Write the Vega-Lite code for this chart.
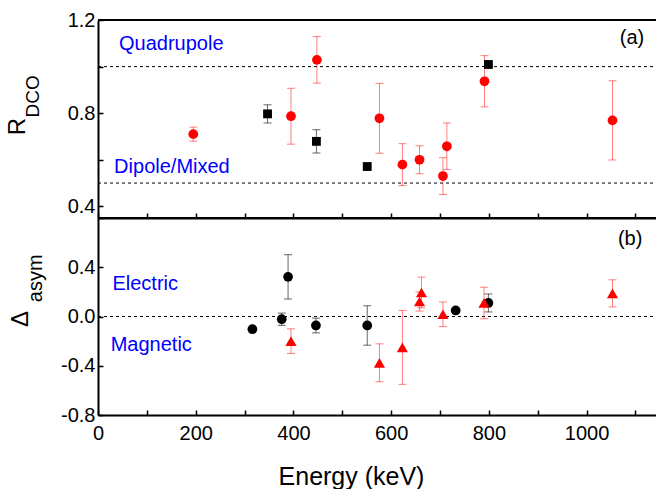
{
  "$schema": "https://vega.github.io/schema/vega-lite/v6.json",
  "padding": {"left": 6, "top": 10, "right": 0, "bottom": 0},
  "spacing": 0,
  "bounds": "flush",
  "resolve": {"scale": {"x": "independent", "y": "independent"}, "axis": {"x": "independent", "y": "independent"}},
  "config": {
    "font": "Liberation Sans",
    "view": {"stroke": null},
    "axis": {
      "grid": false,
      "domainColor": "#000000",
      "domainWidth": 2,
      "tickColor": "#000000",
      "tickWidth": 1.5,
      "tickSize": -5,
      "labelFont": "Liberation Sans",
      "labelFontSize": 20,
      "labelColor": "#000000",
      "labelFlush": false,
      "labelOverlap": false,
      "titleFont": "Liberation Sans",
      "titleFontSize": 25,
      "titleFontWeight": "normal",
      "titleColor": "#000000"
    }
  },
  "datasets": {
    "one": [{}],
    "rdcoRed": [
      {"E": 195, "v": 0.71, "err": 0.03},
      {"E": 395, "v": 0.787, "err": 0.12},
      {"E": 448, "v": 1.029, "err": 0.10},
      {"E": 576, "v": 0.778, "err": 0.15},
      {"E": 623, "v": 0.579, "err": 0.09},
      {"E": 658, "v": 0.60, "err": 0.06},
      {"E": 706, "v": 0.53, "err": 0.079},
      {"E": 714, "v": 0.658, "err": 0.10},
      {"E": 791, "v": 0.937, "err": 0.11},
      {"E": 1053, "v": 0.769, "err": 0.17}
    ],
    "rdcoBlack": [
      {"E": 347, "v": 0.797, "err": 0.039},
      {"E": 447, "v": 0.679, "err": 0.05},
      {"E": 551, "v": 0.571, "err": 0.0},
      {"E": 799, "v": 1.009, "err": 0.0}
    ],
    "asymBlack": [
      {"E": 316, "v": -0.103, "err": 0.0},
      {"E": 376, "v": -0.022, "err": 0.05},
      {"E": 389, "v": 0.322, "err": 0.18},
      {"E": 446, "v": -0.073, "err": 0.06},
      {"E": 551, "v": -0.073, "err": 0.16},
      {"E": 732, "v": 0.049, "err": 0.0},
      {"E": 799, "v": 0.11, "err": 0.073}
    ],
    "asymRed": [
      {"E": 395, "v": -0.20, "err": 0.10},
      {"E": 576, "v": -0.376, "err": 0.154},
      {"E": 623, "v": -0.251, "err": 0.30},
      {"E": 658, "v": 0.122, "err": 0.078},
      {"E": 662, "v": 0.195, "err": 0.125},
      {"E": 706, "v": 0.018, "err": 0.10},
      {"E": 790, "v": 0.11, "err": 0.128},
      {"E": 1053, "v": 0.188, "err": 0.11}
    ]
  },
  "vconcat": [
    {
      "width": 558,
      "height": 198,
      "layer": [
        {
          "data": {"name": "one"},
          "mark": {"type": "rule", "color": "#000000", "strokeWidth": 1, "strokeDash": [3, 3]},
          "encoding": {
            "x": {"datum": 0, "type": "quantitative", "scale": {"domain": [0, 1142], "nice": false, "zero": false},
              "axis": {"title": null, "orient": "bottom", "labels": false, "domain": true, "ticks": true, "zindex": 1,
                "domainOpacity": 1, "tickOpacity": 1, "tickSize": -5,
                "values": [0, 100, 200, 300, 400, 500, 600, 700, 800, 900, 1000, 1100]}},
            "x2": {"datum": 1142},
            "y": {"datum": 1.0, "type": "quantitative", "scale": {"domain": [0.35, 1.2], "nice": false, "zero": false},
              "axis": {"title": null, "values": [0.4, 0.6, 0.8, 1.0, 1.2], "labelPadding": 8,
                "labelExpr": "round(datum.value*10) % 4 == 0 ? format(datum.value, '.1f') : ''"}}
          }
        },
        {
          "data": {"name": "one"},
          "mark": {"type": "rule", "color": "#000000", "strokeWidth": 1, "strokeDash": [3, 3]},
          "encoding": {
            "x": {"datum": 0, "type": "quantitative", "scale": {"domain": [0, 1142], "nice": false, "zero": false}},
            "x2": {"datum": 1142},
            "y": {"datum": 0.5, "type": "quantitative", "scale": {"domain": [0.35, 1.2], "nice": false, "zero": false}}
          }
        },
        {
          "data": {"name": "one"},
          "mark": {"type": "rule", "color": "#000000", "strokeWidth": 2},
          "encoding": {
            "x": {"datum": 0, "type": "quantitative", "scale": {"domain": [0, 1142], "nice": false, "zero": false}},
            "x2": {"datum": 1142},
            "y": {"datum": 1.2, "type": "quantitative", "scale": {"domain": [0.35, 1.2], "nice": false, "zero": false}}
          }
        },
        {
          "data": {"name": "one"},
          "mark": {"type": "rule", "color": "#000000", "strokeWidth": 2},
          "encoding": {
            "x": {"datum": 0, "type": "quantitative", "scale": {"domain": [0, 1142], "nice": false, "zero": false}},
            "x2": {"datum": 1142},
            "y": {"datum": 0.35, "type": "quantitative", "scale": {"domain": [0.35, 1.2], "nice": false, "zero": false}}
          }
        },
        {
          "data": {"name": "rdcoRed"},
          "mark": {"type": "errorbar", "color": "#ff0000", "opacity": 0.5, "thickness": 1, "ticks": {"size": 8, "thickness": 1}},
          "encoding": {
            "x": {"field": "E", "type": "quantitative", "scale": {"domain": [0, 1142], "nice": false, "zero": false}},
            "y": {"field": "v", "type": "quantitative", "scale": {"domain": [0.35, 1.2], "nice": false, "zero": false}},
            "yError": {"field": "err"}
          }
        },
        {
          "data": {"name": "rdcoBlack"},
          "mark": {"type": "errorbar", "color": "#000000", "opacity": 0.6, "thickness": 1, "ticks": {"size": 8, "thickness": 1}},
          "encoding": {
            "x": {"field": "E", "type": "quantitative", "scale": {"domain": [0, 1142], "nice": false, "zero": false}},
            "y": {"field": "v", "type": "quantitative", "scale": {"domain": [0.35, 1.2], "nice": false, "zero": false}},
            "yError": {"field": "err"}
          }
        },
        {
          "data": {"name": "rdcoRed"},
          "mark": {"type": "point", "shape": "circle", "filled": true, "color": "#ff0000", "opacity": 1, "size": 95},
          "encoding": {
            "x": {"field": "E", "type": "quantitative", "scale": {"domain": [0, 1142], "nice": false, "zero": false}},
            "y": {"field": "v", "type": "quantitative", "scale": {"domain": [0.35, 1.2], "nice": false, "zero": false}}
          }
        },
        {
          "data": {"name": "rdcoBlack"},
          "mark": {"type": "point", "shape": "square", "filled": true, "color": "#000000", "opacity": 1, "size": 78},
          "encoding": {
            "x": {"field": "E", "type": "quantitative", "scale": {"domain": [0, 1142], "nice": false, "zero": false}},
            "y": {"field": "v", "type": "quantitative", "scale": {"domain": [0.35, 1.2], "nice": false, "zero": false}}
          }
        },
        {
          "data": {"name": "one"},
          "mark": {"type": "text", "align": "left", "baseline": "middle", "fontSize": 20, "color": "#0000ff"},
          "encoding": {
            "x": {"datum": 43, "type": "quantitative", "scale": {"domain": [0, 1142], "nice": false, "zero": false}},
            "y": {"datum": 1.099, "type": "quantitative", "scale": {"domain": [0.35, 1.2], "nice": false, "zero": false}},
            "text": {"value": "Quadrupole"}
          }
        },
        {
          "data": {"name": "one"},
          "mark": {"type": "text", "align": "left", "baseline": "middle", "fontSize": 20, "color": "#0000ff"},
          "encoding": {
            "x": {"datum": 33, "type": "quantitative", "scale": {"domain": [0, 1142], "nice": false, "zero": false}},
            "y": {"datum": 0.568, "type": "quantitative", "scale": {"domain": [0.35, 1.2], "nice": false, "zero": false}},
            "text": {"value": "Dipole/Mixed"}
          }
        },
        {
          "data": {"name": "one"},
          "mark": {"type": "text", "align": "center", "baseline": "middle", "fontSize": 20, "color": "#000000"},
          "encoding": {
            "x": {"datum": 1093, "type": "quantitative", "scale": {"domain": [0, 1142], "nice": false, "zero": false}},
            "y": {"datum": 1.124, "type": "quantitative", "scale": {"domain": [0.35, 1.2], "nice": false, "zero": false}},
            "text": {"value": "(a)"}
          }
        },
        {
          "data": {"name": "one"},
          "mark": {"type": "text", "align": "center", "baseline": "alphabetic", "angle": 270, "fontSize": 24, "color": "#000000"},
          "encoding": {
            "x": {"datum": -149, "type": "quantitative", "scale": {"domain": [0, 1142], "nice": false, "zero": false}},
            "y": {"datum": 0.742, "type": "quantitative", "scale": {"domain": [0.35, 1.2], "nice": false, "zero": false}},
            "text": {"value": "R"}
          }
        },
        {
          "data": {"name": "one"},
          "mark": {"type": "text", "align": "center", "baseline": "alphabetic", "angle": 270, "fontSize": 19, "color": "#000000"},
          "encoding": {
            "x": {"datum": -121, "type": "quantitative", "scale": {"domain": [0, 1142], "nice": false, "zero": false}},
            "y": {"datum": 0.872, "type": "quantitative", "scale": {"domain": [0.35, 1.2], "nice": false, "zero": false}},
            "text": {"value": "DCO"}
          }
        }
      ]
    },
    {
      "width": 558,
      "height": 197,
      "layer": [
        {
          "data": {"name": "one"},
          "mark": {"type": "rule", "color": "#000000", "strokeWidth": 1, "strokeDash": [3, 3]},
          "encoding": {
            "x": {"datum": 0, "type": "quantitative", "scale": {"domain": [0, 1142], "nice": false, "zero": false},
              "axis": {"title": "Energy (keV)", "titleX": 253, "titlePadding": 21, "labelPadding": 13,
                "values": [0, 100, 200, 300, 400, 500, 600, 700, 800, 900, 1000, 1100],
                "labelExpr": "datum.value % 200 == 0 && datum.value <= 1000 ? toString(datum.value) : ''"}},
            "x2": {"datum": 1142},
            "y": {"datum": 0, "type": "quantitative", "scale": {"domain": [-0.8, 0.8], "nice": false, "zero": false},
              "axis": {"title": null, "values": [-0.8, -0.6, -0.4, -0.2, 0, 0.2, 0.4, 0.6, 0.8], "labelPadding": 8,
                "labelExpr": "datum.value < 0.7 && round(datum.value*10) % 4 == 0 ? replace(format(datum.value, '.1f'), '\u2212', '-') : ''"}}
          }
        },
        {
          "data": {"name": "asymBlack"},
          "mark": {"type": "errorbar", "color": "#000000", "opacity": 0.6, "thickness": 1, "ticks": {"size": 8, "thickness": 1}},
          "encoding": {
            "x": {"field": "E", "type": "quantitative", "scale": {"domain": [0, 1142], "nice": false, "zero": false}},
            "y": {"field": "v", "type": "quantitative", "scale": {"domain": [-0.8, 0.8], "nice": false, "zero": false}},
            "yError": {"field": "err"}
          }
        },
        {
          "data": {"name": "asymRed"},
          "mark": {"type": "errorbar", "color": "#ff0000", "opacity": 0.5, "thickness": 1, "ticks": {"size": 8, "thickness": 1}},
          "encoding": {
            "x": {"field": "E", "type": "quantitative", "scale": {"domain": [0, 1142], "nice": false, "zero": false}},
            "y": {"field": "v", "type": "quantitative", "scale": {"domain": [-0.8, 0.8], "nice": false, "zero": false}},
            "yError": {"field": "err"}
          }
        },
        {
          "data": {"name": "asymBlack"},
          "mark": {"type": "point", "shape": "circle", "filled": true, "color": "#000000", "opacity": 1, "size": 95},
          "encoding": {
            "x": {"field": "E", "type": "quantitative", "scale": {"domain": [0, 1142], "nice": false, "zero": false}},
            "y": {"field": "v", "type": "quantitative", "scale": {"domain": [-0.8, 0.8], "nice": false, "zero": false}}
          }
        },
        {
          "data": {"name": "asymRed"},
          "mark": {"type": "point", "shape": "triangle-up", "filled": true, "color": "#ff0000", "opacity": 1, "size": 125},
          "encoding": {
            "x": {"field": "E", "type": "quantitative", "scale": {"domain": [0, 1142], "nice": false, "zero": false}},
            "y": {"field": "v", "type": "quantitative", "scale": {"domain": [-0.8, 0.8], "nice": false, "zero": false}}
          }
        },
        {
          "data": {"name": "one"},
          "mark": {"type": "text", "align": "left", "baseline": "middle", "fontSize": 20, "color": "#0000ff"},
          "encoding": {
            "x": {"datum": 29.5, "type": "quantitative", "scale": {"domain": [0, 1142], "nice": false, "zero": false}},
            "y": {"datum": 0.26, "type": "quantitative", "scale": {"domain": [-0.8, 0.8], "nice": false, "zero": false}},
            "text": {"value": "Electric"}
          }
        },
        {
          "data": {"name": "one"},
          "mark": {"type": "text", "align": "left", "baseline": "middle", "fontSize": 20, "color": "#0000ff"},
          "encoding": {
            "x": {"datum": 26, "type": "quantitative", "scale": {"domain": [0, 1142], "nice": false, "zero": false}},
            "y": {"datum": -0.235, "type": "quantitative", "scale": {"domain": [-0.8, 0.8], "nice": false, "zero": false}},
            "text": {"value": "Magnetic"}
          }
        },
        {
          "data": {"name": "one"},
          "mark": {"type": "text", "align": "center", "baseline": "middle", "fontSize": 20, "color": "#000000"},
          "encoding": {
            "x": {"datum": 1089, "type": "quantitative", "scale": {"domain": [0, 1142], "nice": false, "zero": false}},
            "y": {"datum": 0.633, "type": "quantitative", "scale": {"domain": [-0.8, 0.8], "nice": false, "zero": false}},
            "text": {"value": "(b)"}
          }
        },
        {
          "data": {"name": "one"},
          "mark": {"type": "text", "align": "center", "baseline": "alphabetic", "angle": 270, "fontSize": 24, "color": "#000000"},
          "encoding": {
            "x": {"datum": -143, "type": "quantitative", "scale": {"domain": [0, 1142], "nice": false, "zero": false}},
            "y": {"datum": -0.02, "type": "quantitative", "scale": {"domain": [-0.8, 0.8], "nice": false, "zero": false}},
            "text": {"value": "Δ"}
          }
        },
        {
          "data": {"name": "one"},
          "mark": {"type": "text", "align": "center", "baseline": "alphabetic", "angle": 270, "fontSize": 20, "color": "#000000"},
          "encoding": {
            "x": {"datum": -114, "type": "quantitative", "scale": {"domain": [0, 1142], "nice": false, "zero": false}},
            "y": {"datum": 0.31, "type": "quantitative", "scale": {"domain": [-0.8, 0.8], "nice": false, "zero": false}},
            "text": {"value": "asym"}
          }
        }
      ]
    }
  ]
}
